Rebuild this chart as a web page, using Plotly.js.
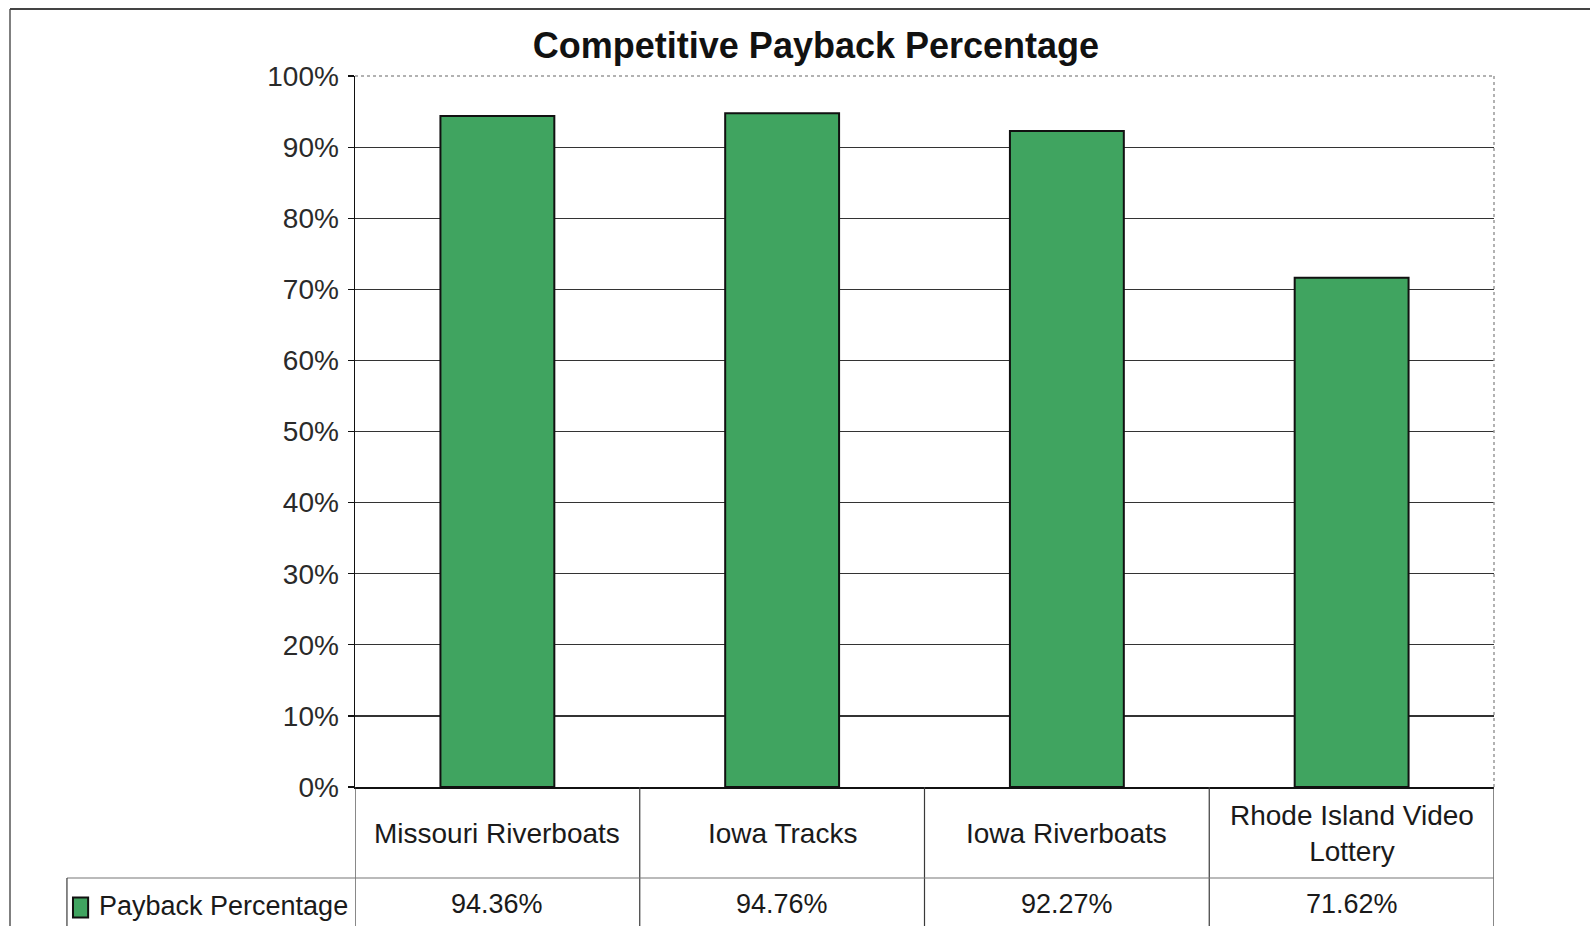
<!DOCTYPE html>
<html>
<head>
<meta charset="utf-8">
<script src="https://cdn.plot.ly/plotly-3.0.1.min.js"></script>
<style>html,body{margin:0;padding:0;background:#fff;}#chart{width:1590px;height:926px;}</style>
</head>
<body>
<div id="chart"></div>
<script>
const chartTitle = 'Competitive Payback Percentage';
const categories = ['Missouri Riverboats', 'Iowa Tracks', 'Iowa Riverboats', 'Rhode Island Video<br>Lottery'];
const seriesName = 'Payback Percentage';
const payback = [94.36, 94.76, 92.27, 71.62];
const yTicks = [0, 10, 20, 30, 40, 50, 60, 70, 80, 90, 100];

const FONT = 'Liberation Sans, Arial, sans-serif';
const barColor = '#40a460';
const lineColor = '#3a3a3a';

const xIdx = categories.map((_, i) => i);

const trace = {
  type: 'bar',
  x: xIdx,
  y: payback,
  name: seriesName,
  width: 0.4,
  marker: {color: barColor, line: {color: '#111', width: 2}},
  hoverinfo: 'y',
  showlegend: false
};

const shapes = [];
const annotations = [];
// outer frame (left and top)
shapes.push({type:'line', xref:'paper', yref:'paper', x0:-0.3029, x1:-0.3029, y0:1.0942, y1:-0.25, line:{color:'#555', width:1.5}});
shapes.push({type:'line', xref:'paper', yref:'paper', x0:-0.3029, x1:1.38, y0:1.0942, y1:1.0942, line:{color:'#444', width:2}});
// plot top and right border (dotted light)
shapes.push({type:'line', xref:'paper', yref:'paper', x0:0, x1:1, y0:1, y1:1, line:{color:'#fff', width:3}, layer:'above'});
shapes.push({type:'line', xref:'paper', yref:'paper', x0:0, x1:1, y0:1, y1:1, line:{color:'#999', width:1.5, dash:'dot'}, layer:'above'});
shapes.push({type:'line', xref:'paper', yref:'paper', x0:1, x1:1, y0:0, y1:1, line:{color:'#999', width:1.5, dash:'dot'}, layer:'above'});

// data table
const rowBottom = -0.128, tableBottom = -0.23;
for (let i = 0; i <= categories.length; i++) {
  const xb = i - 0.5;
  shapes.push({type:'line', xref:'x', yref:'paper', x0:xb, x1:xb, y0:0, y1:tableBottom, line:{color:lineColor, width:1.2}});
}
shapes.push({type:'line', xref:'paper', yref:'paper', x0:-0.2529, x1:1, y0:rowBottom, y1:rowBottom, line:{color:'#777', width:1.2}});
shapes.push({type:'line', xref:'paper', yref:'paper', x0:-0.2529, x1:-0.2529, y0:rowBottom, y1:tableBottom, line:{color:lineColor, width:1.2}});
// legend key
shapes.push({type:'rect', xref:'paper', yref:'paper', x0:-0.2476, x1:-0.2343, y0:-0.1555, y1:-0.1835, fillcolor:barColor, line:{color:'#111', width:2}});
annotations.push({xref:'paper', yref:'paper', x:-0.2265, y:-0.168, xanchor:'left', yanchor:'middle', text:seriesName, showarrow:false, font:{family:FONT, size:27, color:'#1a1a1a'}});

categories.forEach((c, i) => {
  annotations.push({xref:'x', yref:'paper', x:i, y:-0.0661, xanchor:'center', yanchor:'middle', text:c, showarrow:false, font:{family:FONT, size:28, color:'#1a1a1a'}});
  annotations.push({xref:'x', yref:'paper', x:i, y:-0.1646, xanchor:'center', yanchor:'middle', text:payback[i].toFixed(2) + '%', showarrow:false, font:{family:FONT, size:27, color:'#1a1a1a'}});
});

const layout = {
  width: 1590,
  height: 926,
  margin: {l: 355, r: 96, t: 76, b: 139, pad: 0},
  paper_bgcolor: '#fff',
  plot_bgcolor: '#fff',
  title: {
    text: '<b>' + chartTitle + '</b>',
    font: {family: FONT, size: 36, color: '#111'},
    xref: 'paper', x: 0.4047, xanchor: 'center',
    yref: 'container', y: 1 - 45/926, yanchor: 'middle'
  },
  xaxis: {
    range: [-0.5, categories.length - 0.5],
    showticklabels: false,
    ticks: '',
    showgrid: false,
    zeroline: false,
    showline: true,
    linecolor: '#111',
    linewidth: 1.5,
    fixedrange: true
  },
  yaxis: {
    range: [0, 100],
    tickvals: yTicks,
    ticktext: yTicks.map(v => v + '%'),
    ticks: 'outside',
    ticklen: 6,
    tickwidth: 1.2,
    tickcolor: '#111',
    ticklabelstandoff: 3,
    showline: true,
    linecolor: '#111',
    linewidth: 1.5,
    showgrid: true,
    gridcolor: '#333',
    gridwidth: 1.2,
    zeroline: false,
    tickfont: {family: FONT, size: 28, color: '#2a2a2a'},
    fixedrange: true
  },
  bargap: 0.6,
  shapes: shapes,
  annotations: annotations,
  showlegend: false
};

Plotly.newPlot('chart', [trace], layout, {displayModeBar: false, staticPlot: true});
</script>
</body>
</html>
